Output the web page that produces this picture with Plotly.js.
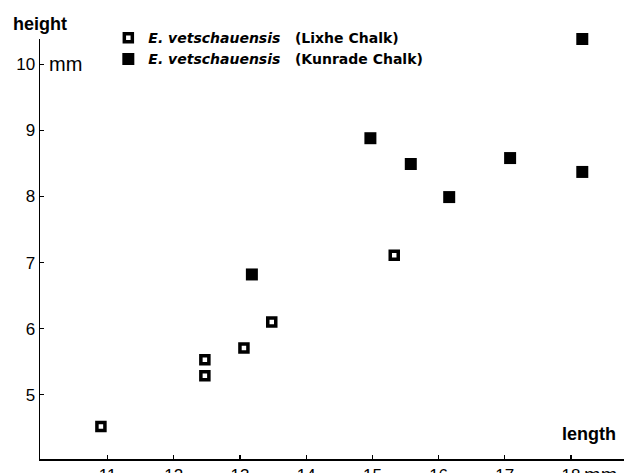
<!DOCTYPE html>
<html>
<head>
<meta charset="utf-8">
<script src="https://cdn.plot.ly/plotly-3.0.1.min.js"></script>
<style>html,body{margin:0;padding:0;background:#fff;}#chart{width:624px;height:473px;}</style>
</head>
<body>
<div id="chart"></div>
<script>
// Lixhe Chalk specimens (open symbols)
const lixheLength = [10.90, 12.47, 12.47, 13.06, 13.48, 15.33];
const lixheHeight = [4.52, 5.53, 5.29, 5.71, 6.10, 7.11];
// Kunrade Chalk specimens (filled symbols)
const kunradeLength = [13.18, 14.97, 15.58, 16.16, 17.08, 18.17, 18.17];
const kunradeHeight = [6.82, 8.88, 8.49, 7.99, 8.58, 8.37, 10.38];
// axis ticks
const xTicks = [11, 12, 13, 14, 15, 16, 17, 18];
const yTicks = [5, 6, 7, 8, 9, 10];
const seriesNames = ['<i>E. vetschauensis</i>\u00a0\u00a0 (Lixhe Chalk)', '<i>E. vetschauensis</i>\u00a0\u00a0 (Kunrade Chalk)'];

const font = 'Liberation Sans, Arial, Helvetica, sans-serif';

const traces = [
  {
    x: lixheLength, y: lixheHeight, name: seriesNames[0], type: 'scatter', mode: 'markers',
    cliponaxis: false,
    marker: {symbol: 'square', size: 8, color: '#fff', line: {color: '#000', width: 3.5}}
  },
  {
    x: kunradeLength, y: kunradeHeight, name: seriesNames[1], type: 'scatter', mode: 'markers',
    cliponaxis: false,
    marker: {symbol: 'square', size: 12, color: '#000', line: {width: 0}}
  }
];

const layout = {
  width: 624, height: 473,
  margin: {l: 40, r: 0, t: 39, b: 14, pad: 0},
  paper_bgcolor: '#fff', plot_bgcolor: '#fff',
  font: {family: font, color: '#000', size: 17},
  showlegend: true,
  legend: {
    x: 0.117, y: 1.04, xanchor: 'left', yanchor: 'top',
    bgcolor: 'rgba(0,0,0,0)', borderwidth: 0,
    font: {family: 'DejaVu Sans, sans-serif', size: 14, color: '#000', weight: 'bold'},
    tracegroupgap: 0, itemwidth: 30
  },
  xaxis: {
    range: [9.98, 18.8], tickvals: xTicks, ticktext: xTicks.map(String),
    showgrid: false, zeroline: false, showline: true, linecolor: '#000', linewidth: 1.5,
    ticks: 'inside', ticklen: 4, tickwidth: 1.2, tickcolor: '#000',
    tickfont: {family: font, size: 17}
  },
  yaxis: {
    range: [4.03, 10.38], tickvals: yTicks, ticktext: yTicks.map(String),
    showgrid: false, zeroline: false, showline: true, linecolor: '#000', linewidth: 1.5,
    ticks: 'inside', ticklen: 4, tickwidth: 1.2, tickcolor: '#000',
    tickfont: {family: font, size: 17}
  },
  annotations: [
    {text: '<b>height</b>', xref: 'paper', yref: 'paper', x: -0.05, y: 1.036, xanchor: 'left', yanchor: 'middle', showarrow: false, font: {size: 18}},
    {text: 'mm', xref: 'x', yref: 'y', x: 10.08, y: 10, xanchor: 'left', yanchor: 'middle', showarrow: false, font: {size: 20}},
    {text: '<b>length</b>', xref: 'paper', yref: 'paper', x: 0.99, y: 0.06, xanchor: 'right', yanchor: 'middle', showarrow: false, font: {size: 18}},
    {text: 'mm', xref: 'x', yref: 'paper', x: 18.17, y: 0, xanchor: 'left', yanchor: 'top', yshift: -3, showarrow: false, font: {size: 20}}
  ]
};

Plotly.newPlot('chart', traces, layout, {staticPlot: true, displayModeBar: false});
</script>
</body>
</html>
